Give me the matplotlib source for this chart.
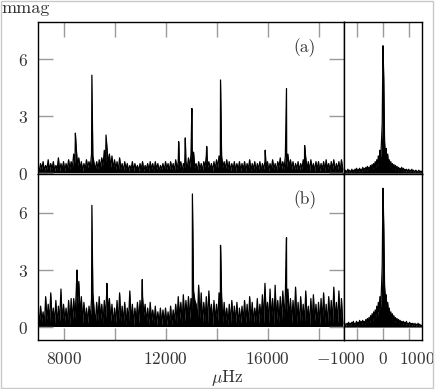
import numpy as np
import matplotlib
matplotlib.use('Agg')
import matplotlib.pyplot as plt
from matplotlib.patches import Rectangle
from matplotlib.transforms import ScaledTranslation

plt.rcParams['font.family'] = ['cmr10', 'DejaVu Serif']
plt.rcParams['mathtext.fontset'] = 'cm'
plt.rcParams['axes.unicode_minus'] = False

# ---- data (mmag vs muHz) ----
freq_grid = np.arange(7000, 19000, 50)   # 240 samples

noise_a = [
    0.4, 0.1, 0.5, 0.2, 0.6, 0.1, 0.4, 0.2, 0.7, 0.1, 0.5, 0.2, 0.6, 0.1, 0.4, 0.2, 0.8, 0.1, 0.5, 0.2,
    0.6, 0.1, 0.5, 0.2, 0.7, 0.2, 0.6, 0.3, 1.0, 0.5, 1.3, 0.4, 0.8, 0.2, 0.6, 0.1, 0.5, 0.2, 0.7, 0.3,
    0.6, 0.3, 1.0, 0.9, 0.5, 0.2, 0.6, 0.2, 0.7, 0.3, 0.8, 0.4, 1.2, 0.6, 1.4, 0.5, 1.0, 0.3, 0.9, 0.2,
    0.7, 0.2, 0.6, 0.1, 0.8, 0.2, 0.5, 0.1, 0.6, 0.2, 0.5, 0.1, 0.4, 0.2, 0.6, 0.1, 0.5, 0.2, 0.4, 0.1,
    0.5, 0.2, 0.6, 0.1, 0.4, 0.2, 0.5, 0.1, 0.6, 0.2, 0.5, 0.1, 0.6, 0.2, 0.5, 0.1, 0.4, 0.2, 0.5, 0.1,
    0.6, 0.2, 0.5, 0.1, 0.6, 0.2, 0.5, 0.1, 0.7, 0.2, 0.6, 0.3, 0.6, 0.1, 0.5, 0.3, 0.6, 0.2, 0.8, 0.3,
    1.0, 0.6, 1.1, 0.3, 0.5, 0.1, 0.6, 0.2, 0.5, 0.1, 0.6, 0.3, 0.9, 0.3, 0.6, 0.2, 0.5, 0.1, 0.6, 0.2,
    0.7, 0.3, 0.9, 0.5, 0.9, 0.3, 0.6, 0.2, 0.7, 0.2, 0.6, 0.1, 0.5, 0.2, 0.6, 0.1, 0.5, 0.2, 0.6, 0.1,
    0.5, 0.2, 0.6, 0.1, 0.5, 0.2, 0.7, 0.1, 0.5, 0.2, 0.6, 0.1, 0.5, 0.2, 0.6, 0.1, 0.5, 0.2, 0.6, 0.2,
    0.6, 0.1, 0.5, 0.2, 0.7, 0.2, 0.5, 0.1, 0.6, 0.3, 0.8, 0.2, 0.6, 0.2, 0.9, 0.3, 1.0, 0.3, 0.7, 0.2,
    0.6, 0.1, 0.5, 0.2, 0.6, 0.1, 0.5, 0.2, 0.7, 0.3, 0.8, 0.2, 0.6, 0.1, 0.7, 0.2, 0.5, 0.1, 0.6, 0.2,
    0.6, 0.1, 0.5, 0.2, 0.6, 0.1, 0.7, 0.2, 0.5, 0.1, 0.6, 0.2, 0.7, 0.1, 0.5, 0.2, 0.6, 0.1, 0.7, 0.2,
]
noise_b = [
    0.9, 0.2, 1.1, 0.3, 0.8, 0.1, 1.6, 0.4, 1.2, 0.2, 1.8, 0.3, 1.0, 0.2, 1.4, 0.1, 1.1, 0.3, 2.0, 0.2,
    1.2, 0.3, 1.0, 0.2, 1.4, 0.1, 1.5, 0.3, 1.5, 0.4, 1.9, 1.2, 2.4, 0.6, 1.6, 0.2, 1.3, 0.3, 1.0, 0.2,
    1.1, 0.4, 1.5, 1.8, 0.9, 0.2, 1.3, 0.3, 1.6, 0.4, 1.2, 0.2, 1.4, 0.5, 2.0, 0.8, 1.5, 0.3, 1.2, 0.1,
    1.0, 0.2, 1.4, 0.1, 1.8, 0.3, 1.1, 0.2, 1.3, 0.1, 1.0, 0.3, 1.9, 0.2, 1.2, 0.1, 1.0, 0.3, 1.3, 0.2,
    1.4, 0.3, 1.6, 0.6, 1.2, 0.2, 1.0, 0.1, 1.3, 0.3, 0.9, 0.2, 1.1, 0.1, 0.8, 0.2, 1.0, 0.1, 0.9, 0.2,
    1.0, 0.1, 0.8, 0.2, 1.1, 0.1, 0.9, 0.3, 1.2, 0.2, 1.6, 0.4, 1.3, 0.2, 1.7, 0.3, 1.4, 0.5, 1.6, 0.4,
    1.5, 0.8, 1.9, 1.4, 1.2, 0.3, 2.2, 0.4, 1.8, 0.2, 1.3, 0.3, 1.6, 0.2, 1.9, 0.5, 1.2, 0.1, 1.4, 0.3,
    1.2, 0.3, 1.8, 0.6, 1.6, 0.2, 1.3, 0.3, 1.0, 0.1, 1.2, 0.2, 1.4, 0.3, 1.1, 0.2, 1.3, 0.1, 1.0, 0.2,
    1.1, 0.3, 1.4, 0.2, 1.2, 0.1, 1.6, 0.3, 1.3, 0.2, 1.0, 0.3, 1.5, 0.2, 1.2, 0.4, 1.7, 0.2, 2.3, 0.5,
    1.3, 0.2, 2.0, 0.4, 1.5, 0.1, 2.2, 0.3, 1.4, 0.2, 1.6, 0.4, 1.9, 0.5, 1.7, 0.8, 2.0, 0.4, 1.5, 0.2,
    1.4, 0.3, 2.1, 0.2, 1.3, 0.1, 1.6, 0.3, 1.2, 0.2, 1.9, 0.3, 1.1, 0.1, 1.5, 0.2, 1.7, 0.3, 1.2, 0.2,
    1.3, 0.1, 1.5, 0.3, 1.8, 0.2, 1.2, 0.1, 1.6, 0.3, 1.4, 0.2, 2.1, 0.3, 1.3, 0.2, 1.9, 0.1, 1.5, 0.2,
]

# pulsation peaks
peak_freq_a = [8466, 9113, 9668, 12517, 12776, 13034, 13616, 14158, 15910, 16745, 17455]
peak_amp_a = [2.1, 5.15, 2.0, 1.65, 1.85, 3.4, 1.4, 4.9, 1.2, 4.45, 1.45]
peak_freq_b = [8530, 9113, 9700, 11090, 13055, 14158, 16745]
peak_amp_b = [3.0, 6.4, 2.3, 2.5, 7.0, 4.3, 4.7]

# spectral windows
win_freq = np.arange(-1500, 1501, 30)   # 101 samples
window_a = [
    0.1, 0.05, 0.15, 0.05, 0.1, 0.2, 0.05, 0.15, 0.1, 0.05, 0.2, 0.1, 0.15, 0.05, 0.2,
    0.1, 0.25, 0.05, 0.2, 0.1, 0.25, 0.1, 0.2, 0.05, 0.3, 0.1, 0.25, 0.15, 0.3, 0.1,
    0.35, 0.15, 0.3, 0.2, 0.4, 0.15, 0.45, 0.2, 0.5, 0.25,
    0.6, 0.3, 0.7, 0.4, 0.9, 0.5, 1.2, 0.8, 1.6, 2.6,
    6.7,
    4.9, 1.7, 0.9, 1.3, 0.6, 1.0, 0.4, 0.7, 0.35, 0.6,
    0.25, 0.5, 0.2, 0.45, 0.15, 0.4, 0.2, 0.35, 0.1, 0.3,
    0.15, 0.25, 0.1, 0.3, 0.05, 0.25, 0.1, 0.2, 0.05, 0.2, 0.15, 0.1, 0.2, 0.05, 0.15,
    0.1, 0.2, 0.05, 0.15, 0.1, 0.05, 0.15, 0.1, 0.05, 0.1, 0.15, 0.05, 0.1, 0.05, 0.1,
]
window_b = [
    0.1, 0.2, 0.05, 0.15, 0.2, 0.1, 0.25, 0.05, 0.2, 0.1, 0.25, 0.15, 0.3, 0.1, 0.2,
    0.15, 0.3, 0.05, 0.25, 0.15, 0.35, 0.1, 0.3, 0.15, 0.35, 0.2, 0.3, 0.1, 0.4, 0.2,
    0.45, 0.2, 0.5, 0.25, 0.6, 0.3, 0.7, 0.3, 0.8, 0.4,
    0.9, 0.5, 1.1, 0.6, 1.3, 0.8, 1.6, 1.0, 2.0, 3.2,
    7.3,
    5.2, 2.2, 1.5, 1.7, 0.9, 1.3, 0.7, 1.0, 0.5, 0.8,
    0.4, 0.7, 0.3, 0.6, 0.25, 0.5, 0.3, 0.45, 0.2, 0.4,
    0.2, 0.35, 0.15, 0.3, 0.1, 0.3, 0.2, 0.25, 0.1, 0.3, 0.15, 0.2, 0.1, 0.25, 0.15,
    0.2, 0.05, 0.2, 0.15, 0.1, 0.2, 0.05, 0.15, 0.1, 0.2, 0.05, 0.15, 0.1, 0.05, 0.1,
]

main_xticks = [8000, 10000, 12000, 14000, 16000, 18000]
main_xlabels = ['$8000$', '', '$12000$', '', '$16000$', '']
yticks = [0, 3, 6]
win_xticks = [-1000, 0, 1000]
win_xlabels = ['$-1000$', '$0$', '$1000$']


def merge_spectrum(noise, pf, pa):
    """noise + peaks, sorted by frequency"""
    f = np.concatenate([freq_grid, pf])
    a = np.concatenate([noise, pa])
    idx = np.argsort(f, kind='stable')
    return f[idx], a[idx]


W, H = 436, 389
fig = plt.figure(figsize=(W / 100, H / 100), dpi=100)

def px_axes(x0, y0, x1, y1):
    return fig.add_axes([x0 / W, 1 - y1 / H, (x1 - x0) / W, (y1 - y0) / H])

ax_a = px_axes(38, 22, 344, 174)
ax_b = px_axes(38, 174, 344, 340)
win_a = px_axes(344, 22, 422, 174)
win_b = px_axes(344, 174, 422, 340)

TICK_C = '#9a9a9a'
TXT_C = '#333333'
LW = 0.9

for ax, noise, pf, pa, ylim in [(ax_a, noise_a, peak_freq_a, peak_amp_a, (-0.05, 7.95)),
                                (ax_b, noise_b, peak_freq_b, peak_amp_b, (-0.68, 8.05))]:
    f, a = merge_spectrum(noise, pf, pa)
    ax.fill_between(f, 0.03, a, color='black', lw=0)
    ax.plot(f, a, color='black', lw=LW)
    ax.set_xlim(7000, 19000)
    ax.set_ylim(*ylim)
    ax.set_xticks(main_xticks)
    ax.set_yticks(yticks)
    ax.set_yticklabels(['$%d$' % v for v in yticks])
    ax.tick_params(axis='y', direction='in', left=True, right=True, length=10.5,
                   width=1, color=TICK_C, labelcolor=TXT_C, labelsize=12.5, pad=7)

for ax, w, ylim in [(win_a, window_a, (-0.05, 7.95)), (win_b, window_b, (-0.68, 8.05))]:
    ax.fill_between(win_freq, 0.0, w, color='black', lw=0)
    ax.plot(win_freq, w, color='black', lw=LW)
    ax.set_xlim(-1500, 1500)
    ax.set_ylim(*ylim)
    ax.set_xticks(win_xticks)
    ax.set_yticks([])

for ax in [ax_a, ax_b, win_a, win_b]:
    for sp in ax.spines.values():
        sp.set_linewidth(1.0)
        sp.set_color('black')

# upper row: ticks on top, no labels
for ax in [ax_a, win_a]:
    ax.tick_params(axis='x', direction='in', top=True, bottom=False, labelbottom=False,
                   length=10.5, width=1, color=TICK_C)
# lower row: ticks at bottom with labels
ax_b.set_xticklabels(main_xlabels)
win_b.set_xticklabels(win_xlabels)
for ax in [ax_b, win_b]:
    ax.tick_params(axis='x', direction='in', top=False, bottom=True, length=9,
                   width=1, color=TICK_C, labelcolor=TXT_C, labelsize=12.5, pad=8)

# the window labels are spread apart in the original
shifts = [-0.16, 0.0, 0.08]
for lab, dx in zip(win_b.get_xticklabels(), shifts):
    lab.set_transform(lab.get_transform() + ScaledTranslation(dx, 0, fig.dpi_scale_trans))

ax_a.text(0.8725, 0.829, '(a)', transform=ax_a.transAxes, ha='center', va='center',
          fontsize=12.5, color=TXT_C)
ax_b.text(0.8725, 0.843, '(b)', transform=ax_b.transAxes, ha='center', va='center',
          fontsize=12.5, color=TXT_C)

fig.text(1 / W, 1 - 13 / H, 'mmag', ha='left', va='baseline', fontsize=13, color=TXT_C)
fig.text(227 / W, 1 - 382 / H, r'$\mu$Hz', ha='center', va='baseline', fontsize=12.5, color=TXT_C)

# light grey frame round the figure
fig.patches.append(Rectangle((0.5 / W, 1 - 387.5 / H), 432 / W, 387 / H,
                             transform=fig.transFigure, fill=False,
                             edgecolor='#c8c8c8', lw=1.0))

fig.savefig('out.png', dpi=100)
